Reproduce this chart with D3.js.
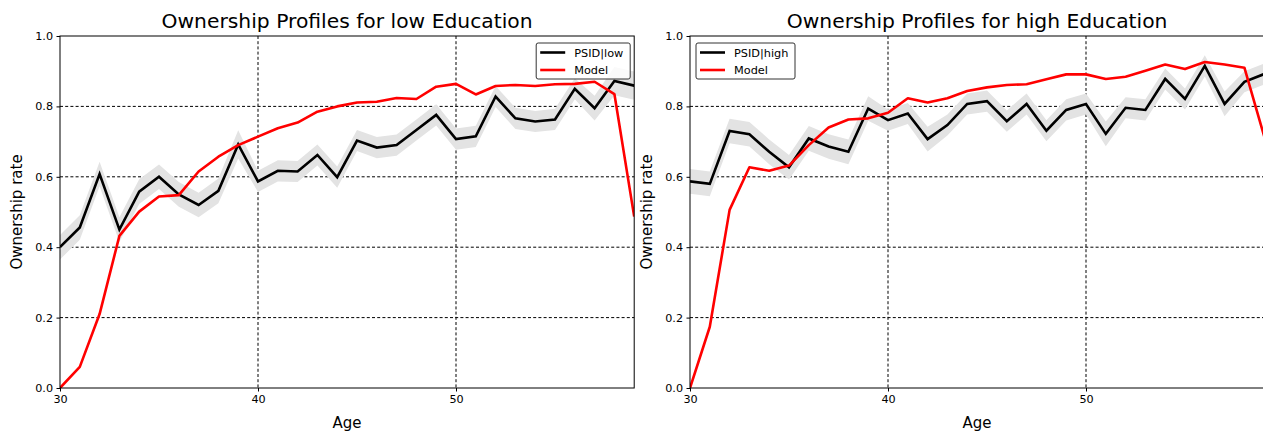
<!DOCTYPE html>
<html>
<head>
<meta charset="utf-8">
<script src="https://cdn.jsdelivr.net/npm/d3@7/dist/d3.min.js"></script>
<style>
  html, body { margin: 0; padding: 0; background: #fff; }
  svg { display: block; font-family: "DejaVu Sans", sans-serif; }
</style>
</head>
<body>
<svg id="chart" width="1263" height="433"></svg>
<script>
// Ages on the horizontal axis
const ages = d3.range(30, 60);

// Low education: PSID data, its confidence half-width, and model profile
const psidLow = [0.400, 0.456, 0.608, 0.450, 0.558, 0.600, 0.550, 0.520, 0.560, 0.692,
                 0.587, 0.617, 0.615, 0.662, 0.599, 0.703, 0.683, 0.690, 0.733, 0.776,
                 0.707, 0.715, 0.828, 0.766, 0.757, 0.763, 0.850, 0.795, 0.872, 0.859];
const psidLowErr = [0.035, 0.035, 0.035, 0.035, 0.035, 0.035, 0.035, 0.035, 0.035, 0.04,
                    0.03, 0.03, 0.03, 0.03, 0.03, 0.03, 0.03, 0.03, 0.03, 0.03,
                    0.03, 0.03, 0.03, 0.03, 0.03, 0.03, 0.03, 0.035, 0.04, 0.04];
const modelLow = [0.000, 0.060, 0.210, 0.432, 0.501, 0.544, 0.548, 0.615, 0.657, 0.690,
                  0.714, 0.738, 0.754, 0.785, 0.800, 0.811, 0.813, 0.824, 0.821, 0.856,
                  0.864, 0.834, 0.858, 0.861, 0.858, 0.863, 0.864, 0.870, 0.835, 0.487];

// High education: PSID data, its confidence half-width, and model profile
const psidHigh = [0.587, 0.580, 0.730, 0.721, 0.671, 0.627, 0.709, 0.686, 0.671, 0.794,
                  0.761, 0.780, 0.707, 0.747, 0.807, 0.815, 0.758, 0.807, 0.731, 0.790,
                  0.807, 0.722, 0.796, 0.790, 0.878, 0.821, 0.915, 0.807, 0.870, 0.892];
const psidHighErr = [0.035, 0.035, 0.035, 0.035, 0.035, 0.035, 0.035, 0.035, 0.035, 0.035,
                     0.03, 0.03, 0.035, 0.03, 0.03, 0.03, 0.03, 0.03, 0.03, 0.03,
                     0.03, 0.035, 0.03, 0.03, 0.03, 0.03, 0.03, 0.035, 0.03, 0.03];
const modelHigh = [0.000, 0.174, 0.506, 0.627, 0.617, 0.632, 0.690, 0.740, 0.763, 0.766,
                   0.782, 0.823, 0.811, 0.823, 0.844, 0.854, 0.861, 0.863, 0.877, 0.891,
                   0.891, 0.878, 0.884, 0.901, 0.919, 0.906, 0.926, 0.919, 0.910, 0.715];

const xTicks = [30, 40, 50];
const yTicks = [0.0, 0.2, 0.4, 0.6, 0.8, 1.0];

const panels = [
  { title: "Ownership Profiles for low Education", label: "PSID|low",
    data: psidLow, err: psidLowErr, model: modelLow, left: 60, legend: "right" },
  { title: "Ownership Profiles for high Education", label: "PSID|high",
    data: psidHigh, err: psidHighErr, model: modelHigh, left: 690, legend: "left" }
];

const svg = d3.select("#chart");
const plotTop = 36, plotBottom = 388;
const pxPerYear = 19.8;

panels.forEach((p, i) => {
  const x = d3.scaleLinear().domain([30, 59]).range([p.left, p.left + 29 * pxPerYear]);
  const y = d3.scaleLinear().domain([0, 1]).range([plotBottom, plotTop]);
  const g = svg.append("g");
  const [x0, x1] = x.range();

  const clipId = "clip" + i;
  svg.append("defs").append("clipPath").attr("id", clipId)
    .append("rect").attr("x", x0).attr("y", plotTop).attr("width", x1 - x0).attr("height", plotBottom - plotTop);

  // dashed grid
  const grid = g.append("g").attr("stroke", "#000").attr("stroke-width", 1)
    .attr("stroke-dasharray", "3,2.2");
  grid.selectAll("line.gx").data(xTicks.filter(t => t > 30)).join("line")
    .attr("x1", d => x(d)).attr("x2", d => x(d)).attr("y1", plotTop).attr("y2", plotBottom);
  grid.selectAll("line.gy").data(yTicks.filter(t => t > 0 && t < 1)).join("line")
    .attr("x1", x0).attr("x2", x1).attr("y1", d => y(d)).attr("y2", d => y(d));

  const plot = g.append("g").attr("clip-path", `url(#${clipId})`);

  // confidence band
  const area = d3.area()
    .x((d, j) => x(ages[j]))
    .y0((d, j) => y(p.data[j] - p.err[j]))
    .y1((d, j) => y(p.data[j] + p.err[j]));
  plot.append("path").datum(p.data).attr("d", area).attr("fill", "#e3e3e3");

  const line = d3.line().x((d, j) => x(ages[j])).y(d => y(d));
  plot.append("path").datum(p.data).attr("d", line)
    .attr("fill", "none").attr("stroke", "#000").attr("stroke-width", 2.6)
    .attr("stroke-linejoin", "miter");
  plot.append("path").datum(p.model).attr("d", line)
    .attr("fill", "none").attr("stroke", "#ff0000").attr("stroke-width", 2.6)
    .attr("stroke-linejoin", "round");

  // axes
  const xAxis = d3.axisBottom(x).tickValues(xTicks).tickFormat(d3.format("d"))
    .tickSize(3.5).tickPadding(3.5);
  const yAxis = d3.axisLeft(y).tickValues(yTicks).tickFormat(d3.format(".1f"))
    .tickSize(3.5).tickPadding(3.5);
  const gx = g.append("g").attr("transform", `translate(0,${plotBottom})`).call(xAxis);
  const gy = g.append("g").attr("transform", `translate(${x0},0)`).call(yAxis);
  [gx, gy].forEach(a => {
    a.select(".domain").remove();
    a.selectAll("text").attr("font-size", 11.2).attr("fill", "#000")
      .attr("font-family", "DejaVu Sans, sans-serif");
    a.selectAll("line").attr("stroke", "#000");
  });

  // frame
  g.append("rect").attr("x", x0).attr("y", plotTop).attr("width", x1 - x0).attr("height", plotBottom - plotTop)
    .attr("fill", "none").attr("stroke", "#000").attr("stroke-width", 1);

  // titles
  g.append("text").attr("x", (x0 + x1) / 2).attr("y", 28).attr("text-anchor", "middle")
    .attr("font-size", 20.3).text(p.title);
  g.append("text").attr("x", (x0 + x1) / 2).attr("y", 428).attr("text-anchor", "middle")
    .attr("font-size", 15).text("Age");
  g.append("text").attr("transform", `translate(${x0 - 38},${(plotTop + plotBottom) / 2}) rotate(-90)`)
    .attr("text-anchor", "middle").attr("font-size", 15).text("Ownership rate");

  // legend
  const lw = p.legend === "right" ? 94 : 99;
  const lx = p.legend === "right" ? x1 - 4 - lw : x0 + 6;
  const ly = 43;
  const leg = g.append("g").attr("transform", `translate(${lx},${ly})`);
  leg.append("rect").attr("width", lw).attr("height", 36).attr("rx", 2)
    .attr("fill", "#fff").attr("fill-opacity", 0.8).attr("stroke", "#333").attr("stroke-width", 1);
  const entries = [{ name: p.label, color: "#000" }, { name: "Model", color: "#ff0000" }];
  entries.forEach((e, k) => {
    const yy = 9.5 + k * 17.5;
    leg.append("line").attr("x1", 4).attr("x2", 29).attr("y1", yy).attr("y2", yy)
      .attr("stroke", e.color).attr("stroke-width", 2.6);
    leg.append("text").attr("x", 38).attr("y", yy + 4).attr("font-size", 11.3).text(e.name);
  });
});
</script>
</body>
</html>
